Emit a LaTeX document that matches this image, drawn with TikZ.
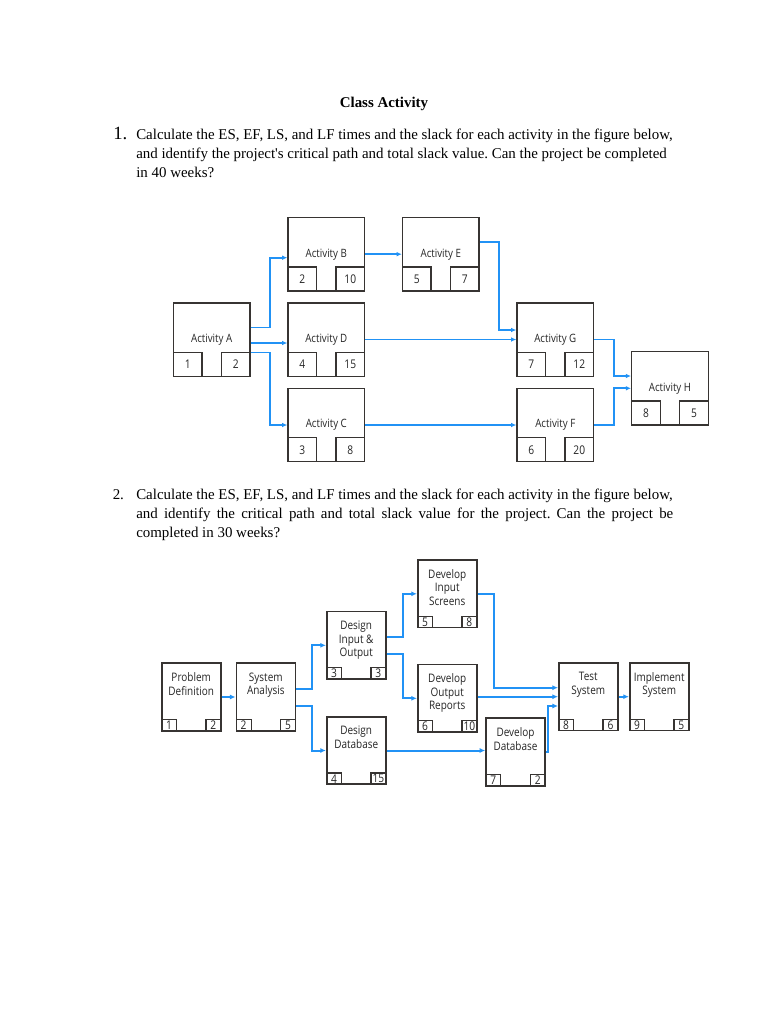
\documentclass[tikz,border=0pt]{standalone}
\usepackage{fontspec}
\setmainfont{Liberation Serif}
\newfontfamily\diagfont[FakeStretch=0.85]{Open Sans}
\usetikzlibrary{calc,arrows.meta}
\definecolor{flowblue}{RGB}{33,146,245}
\definecolor{boxline}{RGB}{55,52,50}
\frenchspacing

\begin{document}
\begin{tikzpicture}[x=0.75pt, y=-0.75pt, line join=miter,
    txt/.style={inner sep=0pt, anchor=base west, font=\fontsize{11.2}{13}\selectfont},
    actbox/.style={draw=boxline, line width=1.1pt, minimum width=57.4pt, minimum height=55.1pt,
      inner sep=0pt, font=\diagfont\fontsize{8.6}{10}\selectfont, text=black!85},
    actnum/.style={draw=boxline, line width=1.1pt, minimum width=21.4pt, minimum height=18pt,
      inner sep=0pt, font=\diagfont\fontsize{9}{10}\selectfont, text=black!85},
    taskbox/.style={draw=boxline, line width=1.2pt, minimum width=44.25pt, minimum height=50.6pt, inner sep=0pt},
    tasktxt/.style={anchor=north, align=center, inner sep=0pt,
      font=\diagfont\fontsize{8.8}{10.1}\selectfont, text=black!85},
    tasknum/.style={draw=boxline, line width=0.9pt, minimum width=11.25pt, minimum height=8.6pt,
      inner sep=0pt, font=\diagfont\fontsize{9}{9}\selectfont, text=black!85},
    flow/.style={draw=flowblue, line width=1.3pt, -{Latex[length=3.8pt,width=3.4pt]}},
    flowb/.style={draw=flowblue, line width=1.5pt, -{Latex[length=4.2pt,width=3.8pt]}}]
  \fill[white] (0,0) rectangle (768,1024);
  \useasboundingbox (0,0) rectangle (768,1024);

  % questions
  \node[anchor=base, inner sep=0pt, font=\fontsize{11.2}{13}\selectfont\bfseries] (title) at (384,108) {Class Activity};
  \node[txt, font=\fontsize{14}{16}\selectfont] (q1n) at (113,139.5) {1.};
  \node[txt] (q1a) at (136,139.5) {Calculate the ES, EF, LS, and LF times and the slack for each activity in the figure below,};
  \node[txt] (q1b) at (136,158.5) {and identify the project\textquotesingle s critical path and total slack value. Can the project be completed};
  \node[txt] (q1c) at (136,177) {in 40 weeks?};
  \node[txt] (q2n) at (112.5,499) {2.};
  \node[txt] (q2a) at (136,499) {Calculate the ES, EF, LS, and LF times and the slack for each activity in the figure below,};
  \node[txt] (q2b) at (136,518) {\makebox[402.75pt][s]{and identify the critical path and total slack value for the project. Can the project be}};
  \node[txt] (q2c) at (136,537) {completed in 30 weeks?};

  % network 1
  \foreach \n/\x/\y/\na/\nb in {A/211.7/339.5/1/2, B/326.3/254.2/2/10, D/326.3/339.5/4/15,
      C/326.3/425/3/8, E/440.8/254.2/5/7, G/555.3/339.5/7/12, F/555.3/425/6/20, H/670/388.3/8/5} {
    \node[actbox] (act\n) at (\x,\y) {Activity \n};
    \node[actnum, anchor=south west] (act\n-es) at (act\n.south west) {\na};
    \node[actnum, anchor=south east] (act\n-d) at (act\n.south east) {\nb};
  }
  \draw[flow] ($(actA.east)+(0,-12)$) -- ++(19,0) |- ($(actB.west)+(0,3.5)$);
  \draw[flow] ($(actA.east)+(0,3.5)$) -- ($(actD.west)+(0,3.5)$);
  \draw[flow] ($(actA.east)+(0,13)$) -- ++(19,0) |- (actC.west);
  \draw[flow] (actB) -- (actE);
  \draw[flow] (actD) -- (actG);
  \draw[flow] ($(actE.east)+(0,-12.5)$) -- ++(19,0) |- ($(actG.west)+(0,-9.5)$);
  \draw[flow] (actC) -- (actF);
  \draw[flow] (actG.east) -- ++(20,0) |- ($(actH.west)+(0,-12.3)$);
  \draw[flow] (actF.east) -- ++(20,0) |- (actH.west);

  % network 2
  \foreach \n/\x/\y/\lab/\na/\nb in {pd/191.2/697/{Problem\\Definition}/1/2,
      sa/265.8/697/{System\\Analysis}/2/5,
      dio/356.2/645.3/{Design\\Input \&\\Output}/3/3,
      dis/447.2/593.8/{Develop\\Input\\Screens}/5/8,
      dor/447.2/698.3/{Develop\\Output\\Reports}/6/10,
      ddes/356.2/750.5/{Design\\Database}/4/15,
      ddb/515.5/752/{Develop\\Database}/7/2,
      ts/588.3/696.7/{Test\\System}/8/6,
      is/659.2/696.7/{Implement\\System}/9/5} {
    \node[taskbox] (\n) at (\x,\y) {};
    \node[tasktxt] (\n-t) at ($(\n.north)+(0,10)$) {\lab};
    \node[tasknum, anchor=south west] (\n-es) at (\n.south west) {\na};
    \node[tasknum, anchor=south east] (\n-d) at (\n.south east) {\nb};
  }
  \draw[flowb] (pd) -- (sa);
  \draw[flowb] ($(sa.east)+(0,-7.7)$) -- ++(16,0) |- (dio.west);
  \draw[flowb] ($(sa.east)+(0,9)$) -- ++(16,0) |- (ddes.west);
  \draw[flowb] ($(dio.east)+(0,-8.6)$) -- ++(16.6,0) |- (dis.west);
  \draw[flowb] ($(dio.east)+(0,8.7)$) -- ++(16.6,0) |- (dor.west);
  \draw[flowb] (dis.east) -- ++(16.6,0) |- ($(ts.west)+(0,-9)$);
  \draw[flowb] (dor.east |- ts.west) -- (ts.west);
  \draw[flowb] (ddes.east) -- (ddes.east -| ddb.west);
  \draw[flowb] (ddb.east) -- ++(2.5,0) |- ($(ts.west)+(0,9.3)$);
  \draw[flowb] (ts) -- (is);
\end{tikzpicture}
\end{document}
